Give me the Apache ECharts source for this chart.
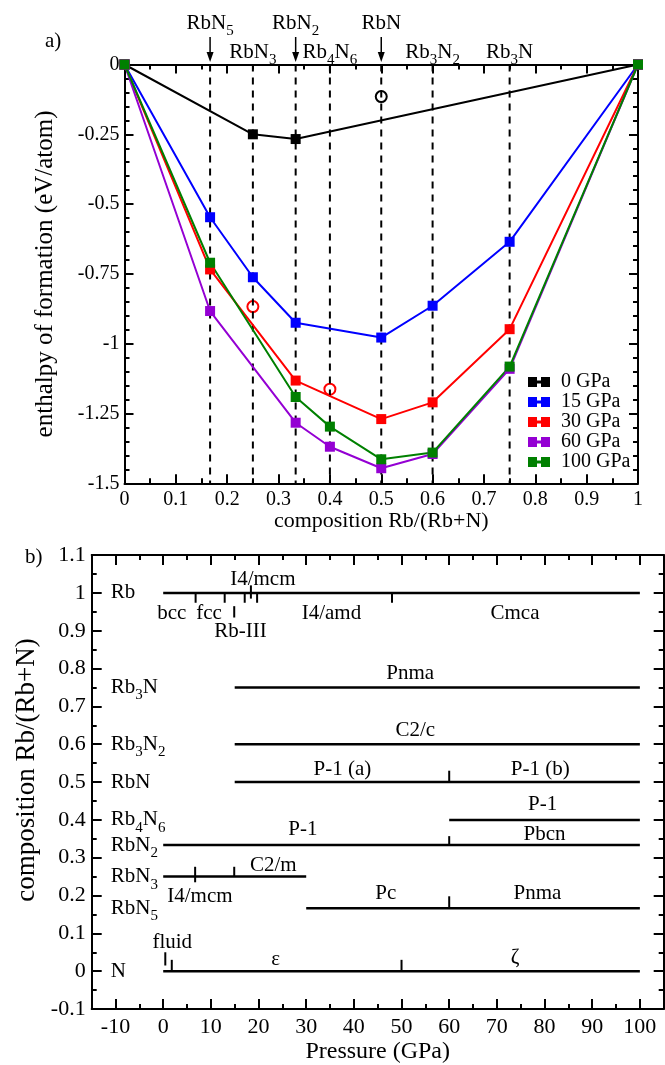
<!DOCTYPE html>
<html><head><meta charset="utf-8">
<script src="https://cdn.jsdelivr.net/npm/echarts@6/dist/echarts.min.js"></script>
<style>html,body{margin:0;padding:0;background:#fff}#c{width:665px;height:1065px}</style>
</head><body><div id="c"></div>
<script>
const FONT = '"Liberation Serif","Times New Roman",serif';

// ---------- Panel a) data ----------
const seriesNames = ['0 GPa', '15 GPa', '30 GPa', '60 GPa', '100 GPa'];
const seriesColors = ['#000000', '#0000ff', '#ff0000', '#9400d3', '#008000'];
const h0   = [[0, 0], [0.25, -0.250], [1/3, -0.267], [1, 0]];
const h15  = [[0, 0], [1/6, -0.547], [0.25, -0.762], [1/3, -0.925], [0.5, -0.978], [0.6, -0.864], [0.75, -0.635], [1, 0]];
const h30  = [[0, 0], [1/6, -0.734], [1/3, -1.132], [0.5, -1.270], [0.6, -1.210], [0.75, -0.948], [1, 0]];
const h60  = [[0, 0], [1/6, -0.883], [1/3, -1.283], [0.4, -1.369], [0.5, -1.446], [0.6, -1.395], [0.75, -1.090], [1, 0]];
const h100 = [[0, 0], [1/6, -0.710], [1/3, -1.191], [0.4, -1.297], [0.5, -1.414], [0.6, -1.390], [0.75, -1.082], [1, 0]];
const hullData = [h0, h15, h30, h60, h100];
const openBlack = [[0.5, -0.115]];
const openRed = [[0.25, -0.867], [0.4, -1.163]];
const dashedX = [1/6, 0.25, 1/3, 0.4, 0.5, 0.6, 0.75];
const topUpper = [['RbN{5}', 1/6], ['RbN{2}', 1/3], ['RbN', 0.5]];
const topLower = [['RbN{3}', 0.25], ['Rb{4}N{6}', 0.4], ['Rb{3}N{2}', 0.6], ['Rb{3}N', 0.75]];
const topUpperY = 0.1475, topLowerY = 0.043;
const arrowX = [1/6, 1/3, 0.5];
const arrowTop = 0.0985, arrowHead = 0.027;

// ---------- Panel b) data ----------
const compLabels = [['Rb', 1], ['Rb{3}N', 0.75], ['Rb{3}N{2}', 0.6], ['RbN', 0.5], ['Rb{4}N{6}', 0.4],
                    ['RbN{2}', 1/3], ['RbN{3}', 0.25], ['RbN{5}', 1/6], ['N', 0]];
const compLabelP = -11;
// [from P, to P, composition]
const phaseSegments = [[0, 100, 1], [15, 100, 0.75], [15, 100, 0.6], [15, 100, 0.5], [60, 100, 0.4],
                       [0, 100, 1/3], [0, 30, 0.25], [30, 100, 1/6], [0, 100, 0]];
// transition ticks: [P, c from, c to]
const phaseTicks = [[6.8, 1, 0.974], [12.9, 1, 0.974], [17.1, 1, 0.974], [18.4, 1.02, 0.985], [19.7, 1, 0.974], [48, 1, 0.974],
                    [14.9, 0.965, 0.935],
                    [60, 0.5, 0.53], [60, 1/3, 0.357],
                    [6.7, 0.276, 0.235], [14.9, 0.276, 0.25],
                    [60, 1/6, 0.198],
                    [1.8, 0, 0.03], [50, 0, 0.03], [0.44, 0.015, 0.05]];
// phase labels: [text, P, c]
const phaseLabels = [['I4/mcm', 20.9, 1.035], ['bcc', 1.8, 0.946], ['fcc', 9.6, 0.946], ['Rb-III', 16.2, 0.8975],
                     ['I4/amd', 35.3, 0.946], ['Cmca', 73.8, 0.946],
                     ['Pnma', 51.8, 0.786], ['C2/c', 52.9, 0.636],
                     ['P-1 (a)', 37.6, 0.533], ['P-1 (b)', 79.1, 0.533],
                     ['P-1', 79.6, 0.44], ['P-1', 29.3, 0.3745], ['Pbcn', 80, 0.361],
                     ['C2/m', 23.1, 0.279], ['I4/mcm', 7.7, 0.198],
                     ['Pc', 46.7, 0.2045], ['Pnma', 78.5, 0.2045],
                     ['fluid', 1.9, 0.076], ['ε', 23.6, 0.031], ['ζ', 73.8, 0.035]];
const pMajor = [-10, 0, 10, 20, 30, 40, 50, 60, 70, 80, 90, 100];
const pMinor = [-5, 5, 15, 25, 35, 45, 55, 65, 75, 85, 95];

// ---------- helpers ----------
function richFormula(s) {
  return s.split(/(\{\d+\})/).filter(t => t).map(t => {
    const m = t.match(/^\{(\d+)\}$/);
    return m ? '{s|' + m[1] + '}' : '{m|' + t + '}';
  }).join('');
}
function richStyles(size) {
  return {
    m: {fontFamily: FONT, fontSize: size, color: '#000', lineHeight: 32},
    s: {fontFamily: FONT, fontSize: Math.round(size * 0.7), color: '#000', lineHeight: 15, padding: [16, 0, 0, 0]}
  };
}
const black2 = {color: '#000', width: 2};
function axis(o) {
  const a = {
    type: 'value', gridIndex: o.grid, position: o.position, min: o.min, max: o.max,
    splitLine: {show: false},
    axisLine: {show: o.line !== false, onZero: false, lineStyle: black2},
    axisTick: {show: true, inside: true, length: o.tickLen || 9, lineStyle: black2},
    minorTick: {show: !!o.minorSplit, splitNumber: o.minorSplit || 2, length: 5, lineStyle: black2},
    axisLabel: {show: !!o.labels, color: '#000', fontFamily: FONT, fontSize: o.fontSize || 20, margin: o.margin || 6},
    nameTextStyle: {color: '#000', fontFamily: FONT, fontSize: o.nameSize || 22, padding: o.namePad || 0}
  };
  if (o.interval !== undefined) a.interval = o.interval;
  if (o.tickValues) a.axisTick.customValues = o.tickValues;
  if (o.labelValues) a.axisLabel.customValues = o.labelValues;
  if (o.name) { a.name = o.name; a.nameLocation = 'middle'; a.nameGap = o.nameGap; }
  return a;
}

const xAxes = [
  axis({grid: 0, position: 'bottom', min: 0, max: 1, interval: 0.1, minorSplit: 2, labels: true, margin: 6,
        name: 'composition Rb/(Rb+N)', nameGap: 27, nameSize: 22}),
  axis({grid: 0, position: 'top', min: 0, max: 1, interval: 0.1, minorSplit: 2}),
  axis({grid: 1, position: 'bottom', min: -15, max: 105, interval: 5, tickValues: pMajor, labelValues: pMajor,
        labels: true, tickLen: 10, margin: 7, fontSize: 22, name: 'Pressure (GPa)', nameGap: 31, nameSize: 24}),
  axis({grid: 1, position: 'bottom', min: -15, max: 105, interval: 5, tickValues: pMinor, tickLen: 5, line: false}),
  axis({grid: 1, position: 'top', min: -15, max: 105, interval: 5, tickValues: pMajor, tickLen: 10}),
  axis({grid: 1, position: 'top', min: -15, max: 105, interval: 5, tickValues: pMinor, tickLen: 5, line: false})
];
const yAxes = [
  axis({grid: 0, position: 'left', min: -1.5, max: 0, interval: 0.25, minorSplit: 5, labels: true, margin: 5,
        name: 'enthalpy of formation (eV/atom)', nameGap: 67, nameSize: 25}),
  axis({grid: 0, position: 'right', min: -1.5, max: 0, interval: 0.25, minorSplit: 5}),
  axis({grid: 1, position: 'left', min: -0.1, max: 1.1, interval: 0.1, minorSplit: 2, labels: true, tickLen: 10, margin: 6,
        fontSize: 22, name: 'composition Rb/(Rb+N)', nameGap: 47, nameSize: 27, namePad: [0, 0, 0, 24]}),
  axis({grid: 1, position: 'right', min: -0.1, max: 1.1, interval: 0.1, minorSplit: 2, tickLen: 10})
];

const series = [];
// dashed composition guides
dashedX.forEach(x => series.push({
  type: 'line', xAxisIndex: 0, yAxisIndex: 0, data: [[x, 0], [x, -1.5]], symbol: 'none', silent: true,
  lineStyle: {color: '#000', width: 2, type: [7, 6]}
}));
// hull series
hullData.forEach((d, i) => series.push({
  type: 'line', name: seriesNames[i], xAxisIndex: 0, yAxisIndex: 0, data: d,
  symbol: 'rect', symbolSize: 10, showAllSymbol: true, color: seriesColors[i],
  lineStyle: {color: seriesColors[i], width: 2}, itemStyle: {color: seriesColors[i], opacity: 1}
}));
// open circles (metastable)
[[openBlack, '#000'], [openRed, '#ff0000']].forEach(([d, c]) => series.push({
  type: 'scatter', xAxisIndex: 0, yAxisIndex: 0, data: d, symbol: 'circle', symbolSize: 11, silent: true,
  itemStyle: {color: 'rgba(0,0,0,0)', borderColor: c, borderWidth: 2, opacity: 1}
}));
// formula / text label helper (labels centred, or left-aligned, on the data point)
function labelSeries(items, y, xi, yi, size, align) {
  return {
    type: 'scatter', xAxisIndex: xi, yAxisIndex: yi, clip: false, silent: true, symbolSize: 0,
    itemStyle: {color: '#000', opacity: 1},
    data: items.map(it => ({value: [it[1], y === null ? it[2] : y], name: it[0]})),
    label: {show: true, position: [0, 0], align: align || 'center', verticalAlign: 'middle', color: '#000',
            formatter: p => richFormula(p.name), rich: richStyles(size)}
  };
}
series.push(labelSeries(topUpper, topUpperY, 0, 0, 21));
series.push(labelSeries(topLower, topLowerY, 0, 0, 21));
// arrows
arrowX.forEach(x => series.push({
  type: 'line', xAxisIndex: 0, yAxisIndex: 0, clip: false, silent: true, symbol: 'none',
  data: [[x, arrowTop], [x, arrowHead]], lineStyle: {color: '#000', width: 1.5}
}));
series.push({
  type: 'scatter', xAxisIndex: 0, yAxisIndex: 0, clip: false, silent: true,
  data: arrowX.map(x => [x, arrowHead]), symbol: 'triangle', symbolSize: [7, 10], symbolRotate: 180,
  itemStyle: {color: '#000', opacity: 1}
});

// panel b segments
phaseSegments.forEach(s => series.push({
  type: 'line', xAxisIndex: 2, yAxisIndex: 2, silent: true, symbol: 'none',
  data: [[s[0], s[2]], [s[1], s[2]]], lineStyle: {color: '#000', width: 2.5}
}));
phaseTicks.forEach(t => series.push({
  type: 'line', xAxisIndex: 2, yAxisIndex: 2, silent: true, symbol: 'none',
  data: [[t[0], t[1]], [t[0], t[2]]], lineStyle: {color: '#000', width: 2}
}));
series.push(labelSeries(phaseLabels, null, 2, 2, 21));
series.push(labelSeries(compLabels.map(l => [l[0], compLabelP, l[1]]), null, 2, 2, 21, 'left'));

const chart = echarts.init(document.getElementById('c'), null, {renderer: 'canvas'});
chart.setOption({
  animation: false,
  backgroundColor: '#fff',
  textStyle: {fontFamily: FONT},
  grid: [
    {left: 124.5, top: 64.5, width: 513.5, height: 418.8},
    {left: 91.7, top: 555.1, width: 572, height: 458.8}
  ],
  xAxis: xAxes,
  yAxis: yAxes,
  legend: {
    data: seriesNames, orient: 'vertical', left: 523, top: 367, itemWidth: 22, itemHeight: 10, itemGap: 0,
    selectedMode: false, icon: 'path://M0,0H9V10H0Z M9,3.5H13V6.5H9Z M13,0H22V10H13Z',
    textStyle: {fontFamily: FONT, fontSize: 20, color: '#000', lineHeight: 20, padding: [0, 0, 0, 6]}
  },
  graphic: [
    {type: 'text', left: 45, top: 31, style: {text: 'a)', font: '21px ' + FONT, fill: '#000'}},
    {type: 'text', left: 25, top: 547, style: {text: 'b)', font: '21px ' + FONT, fill: '#000'}}
  ],
  series: series
});
</script></body></html>
